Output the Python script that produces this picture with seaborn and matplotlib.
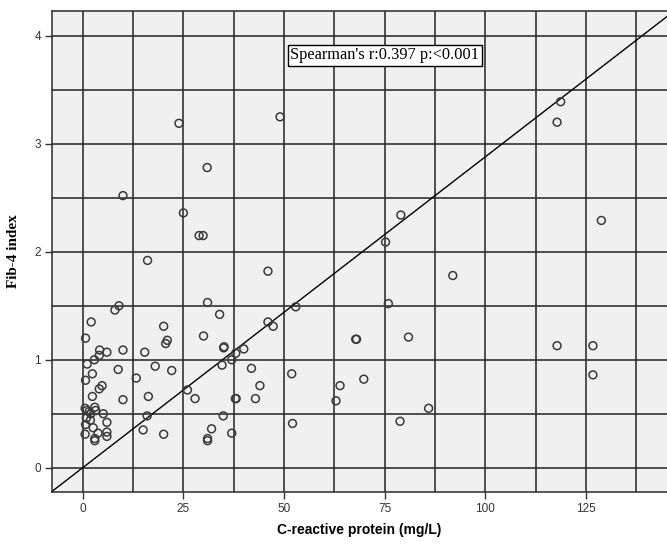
import numpy as np
import pandas as pd
import matplotlib
matplotlib.use("Agg")
import matplotlib.pyplot as plt
import seaborn as sns

# ---- data ----
crp = [
    23.9, 49.0, 30.9, 10.0, 25.0, 28.9, 29.9, 16.1, 46.0, 79.0, 75.2, 91.9, 52.9, 75.9,
    118.7, 117.8, 128.8, 117.8, 126.7, 126.7,
    46.0, 47.3, 40.0, 38.0, 37.0, 67.8, 68.0, 80.9, 41.9, 51.9, 69.8, 44.0, 63.9,
    37.9, 38.1, 42.9, 62.9, 85.9, 78.8, 52.1, 37.0, 31.0, 34.0, 30.0, 35.0, 35.1,
    34.6, 27.9, 34.9, 32.0, 31.0, 31.0, 26.0,
    8.0, 9.0, 2.1, 20.1, 0.7, 21.0, 20.6, 4.2, 6.0, 10.0, 15.4, 4.1, 2.9, 1.1, 8.8,
    18.0, 22.1, 2.4, 0.7, 13.3, 4.8, 4.1, 2.4, 10.0, 16.3,
    0.6, 1.0, 1.6, 3.0, 3.2, 2.0, 5.1, 16.0, 0.9, 0.7, 1.9, 6.0, 2.6, 0.6, 3.8,
    6.0, 6.0, 3.0, 3.0, 15.0, 20.1,
]
fib4 = [
    3.19, 3.25, 2.78, 2.52, 2.36, 2.15, 2.15, 1.92, 1.82, 2.34, 2.09, 1.78, 1.49, 1.52,
    3.39, 3.20, 2.29, 1.13, 1.13, 0.86,
    1.35, 1.31, 1.10, 1.06, 1.00, 1.19, 1.19, 1.21, 0.92, 0.87, 0.82, 0.76, 0.76,
    0.64, 0.64, 0.64, 0.62, 0.55, 0.43, 0.41, 0.32, 1.53, 1.42, 1.22, 1.11, 1.12,
    0.95, 0.64, 0.48, 0.36, 0.25, 0.27, 0.72,
    1.46, 1.50, 1.35, 1.31, 1.20, 1.18, 1.15, 1.09, 1.07, 1.09, 1.07, 1.04, 1.00, 0.96, 0.91,
    0.94, 0.90, 0.87, 0.81, 0.83, 0.76, 0.73, 0.66, 0.63, 0.66,
    0.55, 0.53, 0.52, 0.56, 0.53, 0.50, 0.50, 0.48, 0.46, 0.40, 0.44, 0.42, 0.37, 0.31, 0.32,
    0.33, 0.29, 0.27, 0.25, 0.35, 0.31,
]
x_ticks = [0, 25, 50, 75, 100, 125]
y_ticks = [0, 1, 2, 3, 4]
fit_slope = 0.0288
fit_intercept = 0.0
annotation = "Spearman's r:0.397 p:<0.001"
x_label = "C-reactive protein (mg/L)"
y_label = "Fib-4 index"

df = pd.DataFrame({"crp": crp, "fib4": fib4})

fig = plt.figure(figsize=(6.67, 5.45), dpi=100)
fig.patch.set_facecolor("white")
ax = fig.add_axes([52 / 667, 1 - 492 / 545, 1 - 52 / 667, (492 - 11) / 545])
ax.set_facecolor("#f0f0f0")

xlim = (-7.63, 145.1)
ylim = (-0.225, 4.23)
ax.set_xlim(*xlim)
ax.set_ylim(*ylim)

# grid lines every 12.5 in x and 0.5 in y
for gx in np.arange(0, 140, 12.5):
    ax.axvline(gx, color="#2b2b2b", lw=1.15, zorder=1)
for gy in np.arange(0, 4.01, 0.5):
    ax.axhline(gy, color="#2b2b2b", lw=1.15, zorder=1)

# fit line
ax.axline((0, fit_intercept), slope=fit_slope, color="black", lw=1.0, zorder=2)

sns.scatterplot(data=df, x="crp", y="fib4", ax=ax, marker="o", s=32,
                facecolors="none", edgecolor="#3a3a3a", linewidth=1.1, zorder=3,
                legend=False)

ax.set_xticks(x_ticks)
ax.set_yticks(y_ticks)
ax.set_xticklabels([str(t) for t in x_ticks], fontsize=8.5, family="Liberation Sans", color="#333333")
ax.set_yticklabels([str(t) for t in y_ticks], fontsize=8.5, family="Liberation Sans", color="#333333")
ax.tick_params(axis="both", direction="out", length=5, width=1.0, color="#333333", pad=3)

for side in ["left", "bottom", "top"]:
    ax.spines[side].set_color("#2b2b2b")
    ax.spines[side].set_linewidth(1.1)
ax.spines["right"].set_visible(False)

ax.set_xlabel(x_label, fontsize=10, fontweight="bold", family="Liberation Sans", labelpad=6)
ax.set_ylabel(y_label, fontsize=11, fontweight="bold", family="Liberation Serif", labelpad=10)

ax.text(75.0, 3.82, annotation, ha="center", va="center", fontsize=11.8,
        family="Liberation Serif", zorder=5,
        bbox=dict(boxstyle="square,pad=0.15", facecolor="white", edgecolor="black", linewidth=1.0))

fig.savefig("out.png", dpi=100)
